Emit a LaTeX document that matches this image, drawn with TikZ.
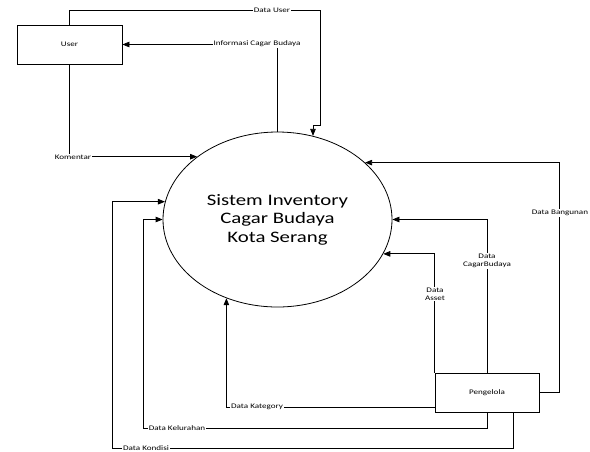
\documentclass[tikz,border=0pt]{standalone}
\usepackage{fontspec}
\setmainfont{Carlito}[FakeStretch=1.3]
\usepackage{tikz}
\usetikzlibrary{arrows.meta,shapes.geometric,positioning}

\begin{document}
\begin{tikzpicture}[x=1pt,y=-1pt,
  flow/.style={draw=black, line width=0.8pt, -{Triangle[length=7pt,width=5.5pt]}},
  entity/.style={draw=black, line width=0.8pt, rectangle, minimum width=105pt, minimum height=39pt, inner sep=0pt, font=\fontsize{7}{8}\selectfont},
  proc/.style={draw=black, line width=0.8pt, ellipse, minimum width=229pt, minimum height=175pt, inner sep=0pt, align=center, font=\fontsize{16}{18.5}\selectfont},
  lbl/.style={fill=white, inner sep=1pt, align=center, font=\fontsize{7}{8}\selectfont}]
\useasboundingbox (0,0) rectangle (590,451);

\node[proc] (sys) at (277.5,219.5) {Sistem Inventory\\Cagar Budaya\\Kota Serang};
\node[entity] (user) at (69.5,44.5) {User};
\node[entity, minimum width=104pt] (pengelola) at (487,392.5) {Pengelola};

% user side
\draw[flow] (user.north) |- (320,10) -- (320,125) -| (sys.67);
\draw[flow] (sys.north) |- (user.east);
\draw[flow] (user.south) |- (sys.142);

% pengelola side
\draw[flow] ([yshift=-14.5pt]pengelola.west) -| (sys.237);
\draw[flow] (pengelola.south) |- (143,428) |- (sys.west);
\draw[flow] ([xshift=26pt]pengelola.south) |- (112,448) |- (sys.171);
\draw[flow] (pengelola.north west) |- (sys.342);
\draw[flow] (pengelola.north) |- (sys.east);
\draw[flow] (pengelola.east) -- ++(20,0) |- (sys.33);

\node[lbl] (luser) at (272,10) {Data User};
\node[lbl] (linfo) at (257,44) {Informasi Cagar Budaya};
\node[lbl] (lkomentar) at (73,157) {Komentar};
\node[lbl] (lkategory) at (257,407) {Data Kategory};
\node[lbl] (lkelurahan) at (177,428) {Data Kelurahan};
\node[lbl] (lkondisi) at (146,448) {Data Kondisi};
\node[lbl] (lbangunan) at (560,213) {Data Bangunan};
\node[lbl] (lcagar) at (487,261) {Data\\CagarBudaya};
\node[lbl] (lasset) at (435,294) {Data\\Asset};
\end{tikzpicture}
\end{document}
